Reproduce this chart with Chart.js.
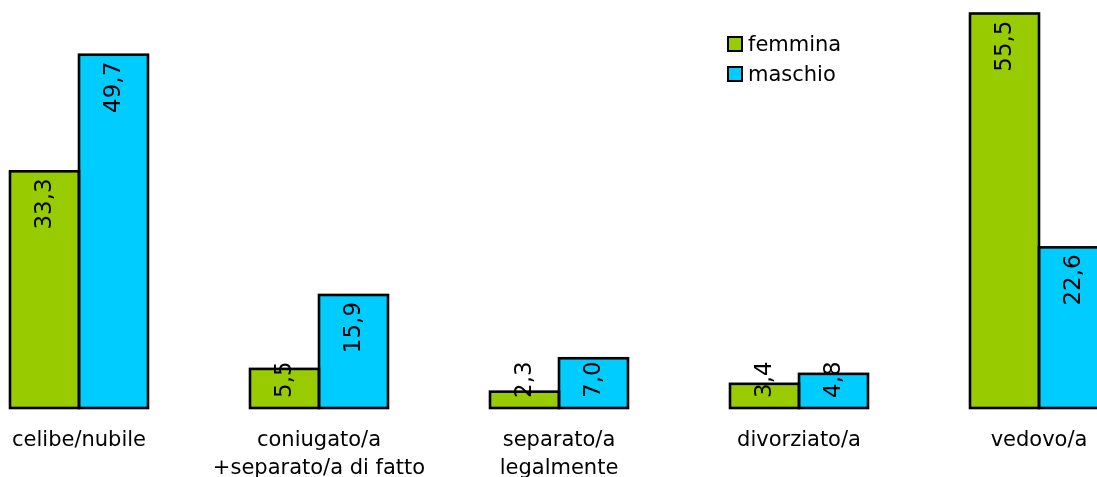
<!DOCTYPE html>
<html>
<head>
<meta charset="utf-8">
<script src="https://cdn.jsdelivr.net/npm/chart.js@4/dist/chart.umd.min.js"></script>
<style>
  html, body { margin: 0; padding: 0; background: #ffffff; overflow: hidden; width: 1097px; height: 477px; }
  #wrap { position: absolute; left: -41px; top: 0; width: 1200px; height: 477px; }
  #legend { position: absolute; left: 727px; top: 29px; font-family: "DejaVu Sans", Verdana, sans-serif; font-size: 21px; color: #000; }
  .item { display: flex; align-items: center; height: 30px; }
  .swatch { width: 12px; height: 12px; border: 2px solid #000; margin-right: 5px; }
</style>
</head>
<body>
<div id="wrap"><canvas id="c" width="1200" height="477"></canvas></div>
<div id="legend"></div>
<script>
// Stato civile: percentuali per sesso
const categories = [
  ["celibe/nubile"],
  ["coniugato/a", "+separato/a di fatto"],
  ["separato/a", "legalmente"],
  ["divorziato/a"],
  ["vedovo/a"]
];
const seriesNames = ["femmina", "maschio"];
const femmina = [33.3, 5.5, 2.3, 3.4, 55.5];
const maschio = [49.7, 15.9, 7.0, 4.8, 22.6];
const seriesColors = ["#99cc00", "#00ccff"];

const FONT = '"DejaVu Sans", Verdana, sans-serif';

// black outline around each bar, stroked on its edges so shared sides stay one line thick
const barOutlines = {
  id: 'barOutlines',
  afterDatasetsDraw(chart) {
    const ctx = chart.ctx;
    ctx.save();
    ctx.strokeStyle = '#000';
    ctx.lineWidth = 2.6;
    ctx.lineJoin = 'miter';
    chart.data.datasets.forEach((ds, di) => {
      chart.getDatasetMeta(di).data.forEach(bar => {
        const l = bar.x - bar.width / 2, r = bar.x + bar.width / 2;
        ctx.strokeRect(l, bar.y, r - l, bar.base - bar.y);
      });
    });
    ctx.restore();
  }
};

// value labels, rotated, near the top of each bar
const valueLabels = {
  id: 'valueLabels',
  afterDatasetsDraw(chart) {
    const ctx = chart.ctx;
    ctx.save();
    ctx.font = '23px ' + FONT;
    ctx.fillStyle = '#000';
    ctx.textAlign = 'right';
    ctx.textBaseline = 'middle';
    chart.data.datasets.forEach((ds, di) => {
      const meta = chart.getDatasetMeta(di);
      meta.data.forEach((bar, i) => {
        const txt = ds.data[i].toFixed(1).replace('.', ',');
        const w = ctx.measureText(txt).width;
        const top = Math.min(bar.y + 7, bar.base - 10 - w);
        ctx.save();
        ctx.translate(bar.x + 1, top);
        ctx.rotate(-Math.PI / 2);
        ctx.fillText(txt, 0, 0);
        ctx.restore();
      });
    });
    ctx.restore();
  }
};

const chart = new Chart(document.getElementById('c'), {
  type: 'bar',
  data: {
    labels: categories,
    datasets: [
      { label: seriesNames[0], data: femmina, backgroundColor: seriesColors[0], borderWidth: 0 },
      { label: seriesNames[1], data: maschio, backgroundColor: seriesColors[1], borderWidth: 0 }
    ]
  },
  options: {
    responsive: false,
    animation: false,
    events: [],
    layout: { padding: 0 },
    categoryPercentage: 0.575,
    barPercentage: 1,
    plugins: { legend: { display: false }, tooltip: { enabled: false } },
    scales: {
      x: {
        grid: { display: false, drawTicks: false },
        border: { display: false },
        ticks: { font: { family: FONT, size: 21, lineHeight: 1.33 }, color: '#000', padding: 19, maxRotation: 0, autoSkip: false },
        afterFit(scale) { scale.height = 69; }
      },
      y: { display: false, min: 0, max: 57.4 }
    }
  },
  plugins: [barOutlines, valueLabels]
});

// legend
const legend = document.getElementById('legend');
seriesNames.forEach((name, i) => {
  const item = document.createElement('div');
  item.className = 'item';
  const sw = document.createElement('span');
  sw.className = 'swatch';
  sw.style.background = seriesColors[i];
  const t = document.createElement('span');
  t.textContent = name;
  item.appendChild(sw);
  item.appendChild(t);
  legend.appendChild(item);
});
</script>
</body>
</html>
